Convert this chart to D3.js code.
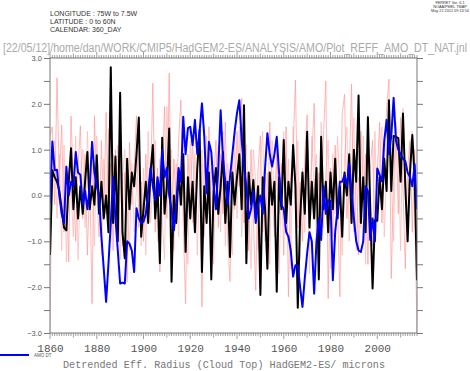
<!DOCTYPE html>
<html>
<head>
<meta charset="utf-8">
<script src="https://cdn.jsdelivr.net/npm/d3@7"></script>
<style>
  body { margin: 0; background: #fff; }
  svg { display: block; }
</style>
</head>
<body>
<svg></svg>
<script>
var width = 470, height = 371;

// years 1860..2017, one value per year
var startYear = 1860;

var amoDT = [
  -0.2, 1.18, 0.55, 0.56, 0.0, -0.4, -0.6, 0.63, 0.0, 0.3,
  0.2, 0.95, 0.5, 0.45, -0.2, 0.1, -0.3, 0.2, 1.17, 0.5,
  0.2, 0.0, -0.9, -1.6, -2.32, -1.5, -0.6, 0.4, -0.5, -1.2,
  -1.92, -1.9, -1.92, -1.0, -1.05, -1.2, -1.67, -0.28, -0.5, -0.6,
  -0.57, -0.4, 0.1, 0.6, 0.2, -0.1, 0.4, 0.0, 1.0, 0.4,
  0.6, 0.0, -0.3, -0.76, -0.2, 0.6, 0.3, 1.72, 0.9, 1.47,
  1.5, 1.1, 1.65, 0.9, 1.4, 2.01, 1.3, 0.05, 1.17, 0.95,
  0.2, -0.3, 0.6, 1.86, 0.8, 0.3, -0.2, 0.4, 0.9, 1.4,
  1.8, 2.08, 1.2, 0.6, 0.2, -0.5, -0.3, 0.1, -0.6, -0.2,
  0.0, -0.4, 0.6, 1.36, 0.9, 0.63, 0.9, 1.28, 0.5, -0.2,
  -0.3, -0.79, -0.9, -1.2, -1.77, -1.52, -1.52, -2.0, -2.43, -1.8,
  -1.26, -0.8, -1.0, -2.14, -1.0, -0.5, -0.97, 0.2, -0.4, -0.1,
  -0.12, -1.85, -0.8, -0.3, 0.3, 0.3, 0.45, 0.2, 0.7, 0.1,
  -0.5, -1.0, -1.2, -1.23, -1.0, 0.2, 0.1, -0.97, -0.5, -1.0,
  0.59, 0.45, 0.31, 1.2, 1.65, 0.9, 1.3, 2.13, 1.2, 1.0,
  0.9, 0.8, 0.75, 0.5, 0.4, 0.2, 0.68, -0.3
];

var blackSeries = [
  -1.3, 0.55, 0.4, 0.3, 0.1, -0.3, -0.7, -0.76, 0.3, 1.03,
  -0.3, 0.4, -0.5, 0.2, -0.4, 0.3, 0.95, -0.3, 0.2, -0.2,
  0.88, -0.4, 0.3, -0.5, 0.0, -0.8, 2.8, -0.6, 0.85, -1.0,
  2.24, -0.8, -1.37, 0.8, -0.3, 0.5, 0.2, 0.9, 1.7, -0.9,
  -0.3, 0.3, -0.6, 0.5, 1.1, -0.5, 0.2, -1.48, 1.26, -0.4,
  0.2, 1.46, -1.88, 0.0, -0.6, 0.5, -0.2, 0.9, -1.23, 0.4,
  -0.5, 0.3, -0.8, 0.6, 1.43, -1.67, 0.2, -0.6, 0.5, -1.83,
  0.1, 0.6, -0.4, 0.2, 0.95, -0.6, 0.3, -1.34, 0.5, -0.2,
  0.4, 0.9, -0.3, 1.97, -1.48, 0.5, -0.2, 0.34, -0.5, 0.2,
  -2.17, 0.4, -0.3, -1.6, 0.5, -0.2, 0.3, -2.1, 0.4, -0.3,
  1.21, -0.6, 0.3, -0.2, 1.1, 0.2, -2.45, -0.5, 0.5, -0.4,
  1.39, -0.7, 0.3, -0.5, 0.6, -1.83, 1.28, -0.3, 0.3, -0.8,
  0.5, -0.3, 0.8, -0.5, 0.2, -0.9, 0.5, 0.0, 0.9, -0.6,
  1.0, 0.3, 2.18, -0.6, 0.4, -0.8, 1.71, -0.3, -2.03, -0.54,
  -0.55, 0.4, -0.3, 0.8, 0.1, 2.08, 0.1, 1.3, 1.28, 1.25,
  0.3, 1.79, 0.2, -1.0, 0.5, 1.32, 0.4, -1.85
];

var pinkA = [
  1.3, 1.5, -0.2, 2.57, 0.3, 1.54, -0.8, 0.5, -1.45, 1.73,
  0.2, -1.0, 0.6, 1.52, -0.5, 0.9, -1.3, 0.4, -2.36, 1.74,
  0.1, -0.9, 1.2, -0.4, 1.81, -0.6, 0.7, -1.2, 1.0, -0.3,
  0.8, -1.1, 0.5, -1.88, 1.16, -0.2, 0.6, 1.73, -0.7, 0.3,
  -1.0, 0.9, -0.4, 0.2, 2.45, -0.8, 0.6, -1.67, 0.4, 1.94,
  -0.5, 2.67, -0.9, 0.8, -0.3, 1.2, 2.08, -0.6, -2.36, 0.9,
  -0.2, 1.3, -0.8, 0.5, 1.1, -2.43, 0.7, -0.5, 1.5, -1.0,
  0.3, 1.2, -0.7, 0.9, -0.4, 1.6, -0.9, -1.88, 0.8, -0.3,
  1.4, 0.2, 2.12, -0.6, 0.5, -1.2, 1.0, -0.5, -2.07, 0.6,
  1.3, -0.8, 0.4, -1.1, 1.6, 0.1, -0.9, 1.1, -0.4, 0.7,
  -1.3, 1.5, -2.21, 0.4, 1.0, 2.52, -0.7, 0.3, -1.0, 0.9,
  1.76, -0.6, 0.8, 2.01, -1.1, 0.5, -0.3, 1.3, 2.5, -2.25,
  0.6, -0.9, 1.1, -0.2, -2.21, 1.77, 2.21, -0.5, 0.4, 2.43,
  -0.8, 0.7, -1.3, 1.4, -0.1, 0.9, -1.5, 0.6, 1.2, -0.9,
  0.5, 1.6, -0.6, 0.8, 1.9, 2.54, -1.81, 0.3, 1.5, -0.4,
  1.7, 0.2, -1.6, 0.6, 1.2, -0.8, 1.0, -1.85
];

var pinkB = [
  -3.0, 0.8, 1.2, -0.5, 0.9, -1.2, 1.1, -1.45, 0.6, 0.1,
  -0.9, 1.3, -1.4, 0.4, 1.0, -0.7, 1.4, -0.2, 0.7, -1.1,
  1.3, 0.2, -1.3, 0.8, -0.4, 1.45, -1.0, 0.9, -0.6, 1.1,
  -1.4, 0.4, 1.0, -0.3, -1.2, 0.7, -0.8, 0.2, 1.3, -1.1,
  0.6, -1.3, 1.4, -0.6, 0.3, 1.2, -1.0, 0.8, -0.5, -1.4,
  1.94, 0.4, 1.0, -1.2, 0.7, -0.9, 0.5, 1.4, -0.4, -1.5,
  1.2, -0.6, 0.9, -1.3, 0.3, 1.0, -0.9, 1.3, -0.4, 0.6,
  -1.5, 0.5, 1.1, -0.8, 1.4, -1.1, 0.7, 0.2, -1.3, 1.2,
  -0.5, 1.5, -0.9, 0.4, 1.1, -0.3, -1.6, 1.0, 0.3, -1.2,
  0.7, 1.4, -1.0, 0.5, -1.5, 1.2, -0.4, 0.9, -1.7, 0.3,
  1.4, -0.6, 0.8, -1.6, 1.5, -0.2, 1.2, -1.4, 0.6, -0.8,
  1.0, -1.7, 1.3, 0.1, 0.9, -1.2, 1.6, -0.7, 0.5, 1.2,
  -1.6, 0.9, -0.4, 1.3, 0.2, -1.3, 0.8, 1.5, -1.0, 0.6,
  1.7, -1.2, 0.4, -0.7, 1.3, -1.5, 0.9, 0.1, -1.1, 1.4,
  -0.6, 0.8, 1.5, -0.9, 0.6, 1.2, 0.4, -1.0, 1.6, 0.9,
  -1.2, 1.9, 0.5, -0.7, 1.1, 1.4, -0.5, -3.0
];

var yTicks = [-3, -2, -1, 0, 1, 2, 3];
var yMinorTicks = [-2.5, -1.5, -0.5, 0.5, 1.5, 2.5];
var xTicks = [1860, 1880, 1900, 1920, 1940, 1960, 1980, 2000];

var headerLines = ['LONGITUDE : 75W to 7.5W', 'LATITUDE : 0 to 60N', 'CALENDAR: 360_DAY'];
var ferretLines = ['FERRET Ver. 6.1', 'NOAA/PMEL TMAP', 'May 22 2012 09:13:54'];
var pathTitle = '[22/05/12]/home/dan/WORK/CMIP5/HadGEM2-ES/ANALYSIS/AMO/Plot_REFF_AMO_DT_NAT.jnl';
var xTitle = 'Detrended Eff. Radius (Cloud Top) HadGEM2-ES/ microns';

var margin = { top: 58, right: 53, bottom: 38, left: 50 };
var innerWidth = width - margin.left - margin.right;
var innerHeight = height - margin.top - margin.bottom;

var svg = d3.select('svg').attr('width', width).attr('height', height);

var x = d3.scaleLinear().domain([1860, 2017]).range([0, innerWidth]);
var y = d3.scaleLinear().domain([-3, 3]).range([innerHeight, 0]);

var g = svg.append('g').attr('transform', `translate(${margin.left},${margin.top})`);

var axisColor = '#777';

// header texts
svg.selectAll('text.hdr').data(headerLines).enter().append('text')
    .attr('class', 'hdr')
    .attr('x', 50)
    .attr('y', (d, i) => 16 + i * 8)
    .attr('font-family', 'Liberation Sans, Arial, sans-serif')
    .attr('font-size', 7)
    .attr('fill', '#333')
    .text(d => d);

svg.selectAll('text.ferret').data(ferretLines).enter().append('text')
    .attr('class', 'ferret')
    .attr('x', 450)
    .attr('y', (d, i) => 4 + i * 3.8)
    .attr('text-anchor', 'middle')
    .attr('font-family', 'Liberation Sans, Arial, sans-serif')
    .attr('font-size', 3.8)
    .attr('fill', '#333')
    .text(d => d);

svg.append('text')
    .attr('x', 3)
    .attr('y', 51.5)
    .attr('font-family', 'Liberation Sans, Arial, sans-serif')
    .attr('font-size', 12)
    .attr('fill', '#aaa')
    .attr('textLength', 464)
    .attr('lengthAdjust', 'spacingAndGlyphs')
    .text(pathTitle);

// lines
var line = d3.line()
    .x((d, i) => x(startYear + i))
    .y(d => y(d));

g.append('clipPath').attr('id', 'clip')
  .append('rect').attr('x', 0).attr('y', 0).attr('width', innerWidth).attr('height', innerHeight + 0.5);

var plot = g.append('g').attr('clip-path', 'url(#clip)');

plot.append('path').datum(pinkB)
    .attr('d', line)
    .attr('fill', 'none')
    .attr('stroke', '#ffbcbc')
    .attr('stroke-width', 0.8);

plot.append('path').datum(pinkA)
    .attr('d', line)
    .attr('fill', 'none')
    .attr('stroke', '#ff9a9a')
    .attr('stroke-width', 0.7);

plot.append('path').datum(blackSeries)
    .attr('d', line)
    .attr('fill', 'none')
    .attr('stroke', '#000')
    .attr('stroke-width', 2)
    .attr('stroke-linejoin', 'round');

plot.append('path').datum(amoDT)
    .attr('d', line)
    .attr('fill', 'none')
    .attr('stroke', '#0000ff')
    .attr('stroke-width', 2)
    .attr('stroke-linejoin', 'round');

// frame
g.append('rect')
    .attr('width', innerWidth)
    .attr('height', innerHeight)
    .attr('fill', 'none')
    .attr('stroke', axisColor)
    .attr('stroke-width', 1);

// y axes, labelled major ticks and unlabelled half ticks
var gl = g.append('g').call(d3.axisLeft(y).tickValues(yTicks).tickSize(6).tickFormat(d3.format('.1f')));
gl.select('.domain').remove();
gl.selectAll('line').attr('stroke', axisColor);
gl.selectAll('text')
    .attr('x', -8)
    .attr('fill', '#555')
    .attr('font-family', 'Liberation Sans, Arial, sans-serif')
    .attr('font-size', 7.5);

var gl2 = g.append('g').call(d3.axisLeft(y).tickValues(yMinorTicks).tickSize(6).tickFormat(''));
gl2.select('.domain').remove();
gl2.selectAll('text').remove();
gl2.selectAll('line').attr('stroke', axisColor);

var gr = g.append('g').attr('transform', `translate(${innerWidth},0)`)
    .call(d3.axisRight(y).tickValues(yTicks.concat(yMinorTicks)).tickSize(6).tickFormat(''));
gr.select('.domain').remove();
gr.selectAll('text').remove();
gr.selectAll('line').attr('stroke', axisColor);

// x axes: yearly minor ticks
var years = d3.range(1860, 2018);
var tickLen = d => d % 20 === 0 ? 6 : (d % 10 === 0 ? 4.5 : 3);

var gb = g.append('g').attr('transform', `translate(0,${innerHeight})`)
    .call(d3.axisBottom(x).tickValues(xTicks).tickSize(6).tickFormat(d3.format('d')));
gb.select('.domain').remove();
gb.selectAll('line').remove();
gb.selectAll('text')
    .attr('y', 11)
    .attr('fill', '#555')
    .attr('font-family', 'Liberation Mono, monospace')
    .attr('font-size', 11);

g.append('g').selectAll('line').data(years).enter().append('line')
    .attr('x1', d => x(d)).attr('x2', d => x(d))
    .attr('y1', innerHeight).attr('y2', d => innerHeight + tickLen(d))
    .attr('stroke', axisColor).attr('stroke-width', 0.7);

g.append('g').selectAll('line').data(years).enter().append('line')
    .attr('x1', d => x(d)).attr('x2', d => x(d))
    .attr('y1', 0).attr('y2', d => -tickLen(d))
    .attr('stroke', axisColor).attr('stroke-width', 0.7);

// legend
svg.append('line')
    .attr('x1', 0).attr('x2', 29)
    .attr('y1', 355).attr('y2', 355)
    .attr('stroke', '#0000ff').attr('stroke-width', 2);
svg.append('text')
    .attr('x', 34).attr('y', 356.5)
    .attr('font-family', 'Liberation Sans, Arial, sans-serif')
    .attr('font-size', 4.5)
    .attr('fill', '#555')
    .text('AMO DT');

svg.append('text')
    .attr('x', 63).attr('y', 368)
    .attr('font-family', 'Liberation Mono, monospace')
    .attr('font-size', 10.5)
    .attr('fill', '#777')
    .attr('textLength', 322)
    .attr('lengthAdjust', 'spacingAndGlyphs')
    .text(xTitle);
</script>
</body>
</html>
